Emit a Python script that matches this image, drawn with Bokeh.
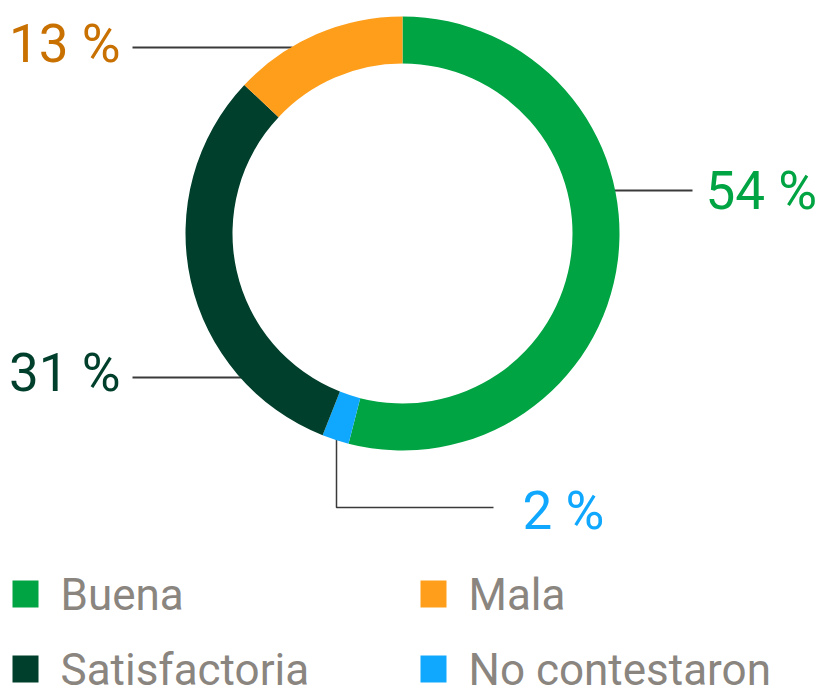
import numpy as np
from bokeh.plotting import figure
from bokeh.models import Range1d
from bokeh.core.properties import value
from bokeh.embed import file_html
from bokeh.resources import INLINE

# ---- data ----
categories = ["Buena", "No contestaron", "Satisfactoria", "Mala"]
percent = [54, 2, 31, 13]
slice_colors = ["#00A443", "#10A8FF", "#003F2B", "#FF9E1B"]
label_colors = ["#00A443", "#10A8FF", "#003F2B", "#C87000"]
labels = [f"{v} %" for v in percent]
legend_order = ["Buena", "Mala", "Satisfactoria", "No contestaron"]

# ---- layout ----
W, H = 819, 694
def Y(y):
    return H - y

cx, cy = 402, Y(233)
r_in, r_out = 170, 217

p = figure(width=W, height=H, x_range=Range1d(0, W), y_range=Range1d(0, H),
           output_backend="svg", toolbar_location=None, min_border=0)
p.axis.visible = False
p.grid.visible = False
p.outline_line_color = None
p.background_fill_color = "white"

cum = np.cumsum([0] + percent)
start = np.pi / 2 - 2 * np.pi * cum[:-1] / 100
end = np.pi / 2 - 2 * np.pi * cum[1:] / 100

# leader lines (drawn under the ring)
line_col = "#3a3a3a"
p.line([614, 692], [Y(190), Y(190)], line_color=line_col, line_width=2)
p.line([336, 336, 493], [Y(438), Y(507), Y(507)], line_color=line_col, line_width=1.5)
p.line([132, 242], [Y(377), Y(377)], line_color=line_col, line_width=2)
p.line([132, 292], [Y(47), Y(47)], line_color=line_col, line_width=2)

p.annular_wedge(x=cx, y=cy, inner_radius=r_in, outer_radius=r_out,
                start_angle=list(start), end_angle=list(end), direction="clock",
                fill_color=slice_colors, line_color=None)

# percentage labels
lab_x = [705, 522, 120, 120]
lab_y = [Y(190), Y(510), Y(372), Y(43)]
lab_align = ["left", "left", "right", "right"]
for i in range(len(categories)):
    p.text(x=[lab_x[i]], y=[lab_y[i]], text=[labels[i]], text_color=label_colors[i],
           text_font=value("Roboto"), text_font_size="53px", text_align=lab_align[i],
           text_baseline="alphabetic")

# legend
leg_x = [12, 420, 12, 420]
leg_y = [580, 580, 655, 655]
for i, name in enumerate(legend_order):
    col = slice_colors[categories.index(name)]
    p.quad(left=leg_x[i], right=leg_x[i] + 26, top=Y(leg_y[i]), bottom=Y(leg_y[i] + 27),
           fill_color=col, line_color=None)
    p.text(x=[leg_x[i] + 48], y=[Y(leg_y[i] + 14)], text=[name], text_color="#8A857F",
           text_font=value("Roboto"), text_font_size="44px", text_align="left",
           text_baseline="alphabetic")

open("out.html", "w").write(file_html(p, INLINE))
